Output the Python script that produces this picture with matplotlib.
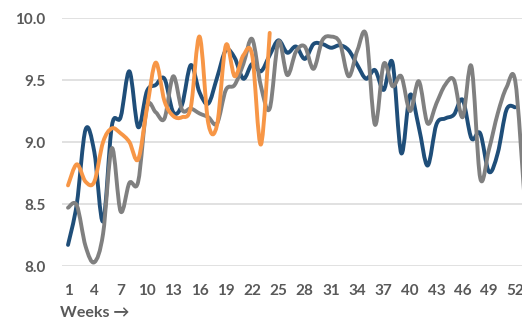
import numpy as np
import matplotlib
matplotlib.use("Agg")
import matplotlib.pyplot as plt
from matplotlib.path import Path
from matplotlib.patches import PathPatch

# %% Weekly scores

weeks = list(range(1, 54))
tick_weeks = list(range(1, 53, 3))
y_ticks = [8.0, 8.5, 9.0, 9.5, 10.0]

blue_scores = [8.17, 8.50, 9.10, 8.92, 8.36, 9.13, 9.20, 9.57, 9.12, 9.41,
               9.46, 9.51, 9.24, 9.30, 9.62, 9.40, 9.31, 9.52, 9.74, 9.68,
               9.51, 9.63, 9.57, 9.70, 9.82, 9.72, 9.77, 9.67, 9.79, 9.79,
               9.76, 9.78, 9.74, 9.62, 9.51, 9.58, 9.42, 9.64, 8.91, 9.38,
               9.12, 8.81, 9.14, 9.19, 9.22, 9.34, 9.03, 9.07, 8.76, 8.91,
               9.26, 9.28]

grey_scores = [8.47, 8.49, 8.16, 8.03, 8.26, 8.95, 8.44, 8.67, 8.68, 9.28,
               9.24, 9.19, 9.53, 9.26, 9.27, 9.23, 9.20, 9.15, 9.42, 9.46,
               9.63, 9.83, 9.45, 9.27, 9.81, 9.54, 9.73, 9.77, 9.59, 9.82,
               9.85, 9.80, 9.53, 9.74, 9.86, 9.14, 9.63, 9.45, 9.53, 9.25,
               9.49, 9.15, 9.31, 9.46, 9.50, 9.20, 9.61, 8.71, 8.94, 9.23,
               9.44, 9.49, 8.60]

orange_scores = [8.65, 8.82, 8.68, 8.68, 9.00, 9.11, 9.07, 9.00, 8.86, 9.27,
                 9.64, 9.33, 9.21, 9.20, 9.28, 9.85, 9.15, 9.14, 9.78, 9.53,
                 9.70, 9.70, 8.98, 9.88]


def smooth_path(xs, ys):
    # Bezier path through every point, control points taken from the neighbours
    pts = np.column_stack([xs, ys]).astype(float)
    n = len(pts)
    verts = [pts[0]]
    codes = [Path.MOVETO]
    for i in range(n - 1):
        p0 = pts[max(i - 1, 0)]
        p1 = pts[i]
        p2 = pts[i + 1]
        p3 = pts[min(i + 2, n - 1)]
        verts += [p1 + (p2 - p0) / 6, p2 - (p3 - p1) / 6, p2]
        codes += [Path.CURVE4] * 3
    return Path(verts, codes)


# %% Figure

text_col = '#595959'
font_fam = ['Lato', 'DejaVu Sans']
plt.rcParams['font.family'] = font_fam
plt.rcParams['font.weight'] = 'bold'

fig = plt.figure(figsize=(5.22, 3.21), dpi=100)
fig.set_facecolor('white')
ax = fig.add_axes([62 / 522, 55 / 321, 460 / 522, 248 / 321])

series = [(blue_scores, '#1F4E79'), (grey_scores, '#808080'), (orange_scores, '#F79646')]
for z, (vals, col) in enumerate(series):
    path = smooth_path(weeks[:len(vals)], vals)
    ax.add_patch(PathPatch(path, facecolor='none', edgecolor=col, lw=2.8,
                           capstyle='round', joinstyle='round', zorder=3 + z))

ax.set_xlim(1 - 6 / 8.77, 1 + 454 / 8.77)
ax.set_ylim(8.0, 10.0)

ax.set_xticks(tick_weeks)
ax.set_xticklabels([str(w) for w in tick_weeks], fontsize=11, fontweight='bold')
ax.set_yticks(y_ticks)
ax.set_yticklabels([f"{v:.1f}" for v in y_ticks], fontsize=11, fontweight='bold')

ax.grid(axis='y', color='#D9D9D9', lw=1.1, zorder=0)
ax.tick_params(axis='x', length=0, labelcolor=text_col, pad=13)
ax.tick_params(axis='y', length=0, labelcolor=text_col, pad=12)

for s in ax.spines.values():
    s.set_visible(False)

fig.text(60 / 522, 1 - 313 / 321, "Weeks \u2192", color=text_col, fontsize=11.5,
         fontweight='bold', ha='left', va='center')

fig.savefig("out.png", dpi=100)
